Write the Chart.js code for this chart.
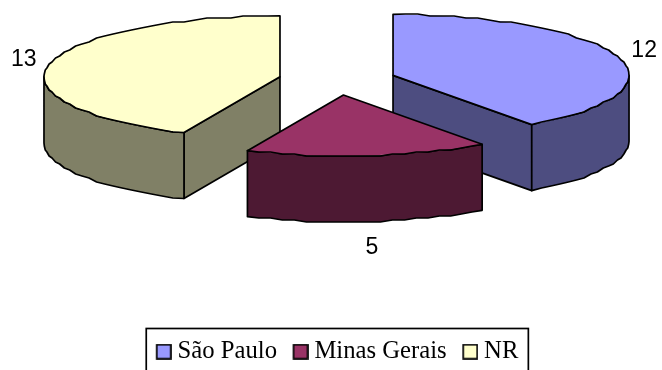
<!DOCTYPE html>
<html>
<head>
<meta charset="utf-8">
<title>Pie</title>
<script src="https://cdn.jsdelivr.net/npm/chart.js@4/dist/chart.umd.js"></script>
<style>
  html, body { margin: 0; padding: 0; background: #fff; overflow: hidden; }
  canvas { display: block; }
</style>
</head>
<body>
<canvas id="chart" width="662" height="370"></canvas>
<script>
const categories = ['São Paulo', 'Minas Gerais', 'NR'];
const values = [12, 5, 13];
const topColors = ['#9999FF', '#993366', '#FFFFCC'];
const sideColors = ['#4D4D80', '#4D1933', '#808066'];

// flattened disc: screen y = CENTER_Y + TILT * (y relative to the arc centre)
const RADIUS = 236;
const EXPLODE = 58.6;
const TILT = 0.258;
const CENTER_Y = 80;
const WALL = 66;
const LINE = 1.7;

function midAngle(arc) {
  return (arc.startAngle + arc.endAngle) / 2;
}

function project(arc, angle, r) {
  const mid = midAngle(arc);
  return {
    x: arc.x + EXPLODE * Math.cos(mid) + r * Math.cos(angle),
    y: CENTER_Y + TILT * (EXPLODE * Math.sin(mid) + r * Math.sin(angle))
  };
}

// rim as a coarse polyline, y snapped to a 2px grid gives the stepped edge
function rimPoints(arc, from, to) {
  const steps = Math.max(2, Math.round((to - from) / (Math.PI / 60)));
  const pts = [];
  for (let i = 0; i <= steps; i++) {
    const p = project(arc, from + (to - from) * i / steps, arc.outerRadius);
    if (i > 0 && i < steps) p.y = Math.round(p.y / 2) * 2;
    pts.push(p);
  }
  return pts;
}

function tracePolygon(ctx, pts) {
  ctx.beginPath();
  pts.forEach((p, i) => (i ? ctx.lineTo(p.x, p.y) : ctx.moveTo(p.x, p.y)));
  ctx.closePath();
}

function paintWall(ctx, top, color) {
  const bottom = top.map(p => ({ x: p.x, y: p.y + WALL })).reverse();
  tracePolygon(ctx, top.concat(bottom));
  ctx.fillStyle = color;
  ctx.fill();
  ctx.stroke();
}

function drawWalls(ctx, arc, color) {
  const apex = project(arc, 0, 0);
  const corner = a => project(arc, a, arc.outerRadius);
  // flat cut faces, only when they turn towards the viewer
  if (Math.sin(arc.startAngle - Math.PI / 2) > 1e-6) paintWall(ctx, [apex, corner(arc.startAngle)], color);
  if (Math.sin(arc.endAngle + Math.PI / 2) > 1e-6) paintWall(ctx, [apex, corner(arc.endAngle)], color);
  // outer rim, front half of the disc only
  const from = Math.max(arc.startAngle, 0);
  const to = Math.min(arc.endAngle, Math.PI);
  if (to > from) paintWall(ctx, rimPoints(arc, from, to), color);
}

// legend marker: bordered square, pushed right inside its canvas
function swatch(color) {
  const c = document.createElement('canvas');
  c.width = 22;
  c.height = 16;
  const g = c.getContext('2d');
  g.fillStyle = color;
  g.strokeStyle = '#000';
  g.lineWidth = LINE;
  g.fillRect(7, 1, 14, 14);
  g.strokeRect(7, 1, 14, 14);
  return c;
}

const tiltedPie = {
  id: 'tiltedPie',
  beforeDatasetsDraw(chart) {
    const ctx = chart.ctx;
    const arcs = chart.getDatasetMeta(0).data;
    ctx.save();
    ctx.strokeStyle = '#000';
    ctx.lineWidth = LINE;
    ctx.lineJoin = 'round';

    const order = arcs.map((_, i) => i).sort((a, b) => Math.sin(midAngle(arcs[a])) - Math.sin(midAngle(arcs[b])));
    order.forEach(i => drawWalls(ctx, arcs[i], sideColors[i]));

    arcs.forEach(arc => {
      const mid = midAngle(arc);
      ctx.save();
      ctx.translate(EXPLODE * Math.cos(mid), CENTER_Y + TILT * EXPLODE * Math.sin(mid));
      ctx.scale(1, TILT);
      ctx.translate(0, -arc.y);
      arc.draw(ctx);
      ctx.restore();
      tracePolygon(ctx, [project(arc, 0, 0)].concat(rimPoints(arc, arc.startAngle, arc.endAngle)));
      ctx.stroke();
    });

    // value labels just outside the rim
    ctx.fillStyle = '#000';
    ctx.font = '23px "Liberation Sans"';
    ctx.textAlign = 'center';
    ctx.textBaseline = 'middle';
    arcs.forEach((arc, i) => {
      const mid = midAngle(arc);
      const p = project(arc, mid, arc.outerRadius);
      const drop = Math.sin(mid) > 0 ? WALL + 6 : 0;
      ctx.fillText(String(values[i]), p.x + 1 + 27 * Math.cos(mid), p.y + drop + 20 * Math.sin(mid));
    });
    ctx.restore();
    return false;
  },
  afterDraw(chart) {
    // frame round the legend
    const boxes = chart.legend.legendHitBoxes;
    const ctx = chart.ctx;
    const left = boxes[0].left - 10;
    const right = boxes[boxes.length - 1].left + boxes[boxes.length - 1].width + 10;
    ctx.save();
    ctx.strokeStyle = '#000';
    ctx.lineWidth = LINE;
    ctx.strokeRect(left, 328.5, right - left, 50);
    ctx.restore();
  }
};

new Chart(document.getElementById('chart'), {
  type: 'pie',
  data: {
    labels: categories,
    datasets: [{
      data: values,
      backgroundColor: topColors,
      borderWidth: 0
    }]
  },
  options: {
    responsive: false,
    animation: false,
    radius: RADIUS,
    layout: { padding: { left: 12.6, bottom: -4 } },
    plugins: {
      tooltip: { enabled: false },
      legend: {
        position: 'bottom',
        labels: {
          font: { family: '"Liberation Serif"', size: 24.7 },
          color: '#000',
          boxHeight: 16,
          usePointStyle: true,
          pointStyleWidth: 9,
          padding: 16,
          generateLabels(chart) {
            return Chart.overrides.pie.plugins.legend.labels.generateLabels(chart).map((item, i) => ({
              ...item,
              pointStyle: swatch(topColors[i])
            }));
          }
        }
      }
    }
  },
  plugins: [tiltedPie]
});
</script>
</body>
</html>
